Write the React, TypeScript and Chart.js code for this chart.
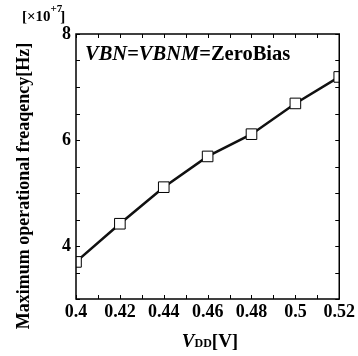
import React, { useEffect, useRef } from "react";
import { Chart, registerables } from "chart.js";

Chart.register(...registerables);

const vdd = [0.4, 0.42, 0.44, 0.46, 0.48, 0.5, 0.52];
const freq = [3.7, 4.42, 5.11, 5.69, 6.11, 6.69, 7.19];
const xMajorLabels = [0.4, 0.42, 0.44, 0.46, 0.48, 0.5, 0.52];
const yMajorLabels = [4, 6, 8];

const SERIF = "'Liberation Serif', 'Times New Roman', serif";

const framePlugin = {
  id: "frame",
  afterDraw(chart: any) {
    const { ctx, chartArea, scales } = chart;
    const { left, right, top, bottom } = chartArea;
    ctx.save();
    ctx.strokeStyle = "#000";
    ctx.lineWidth = 1.5;
    ctx.strokeRect(left, top, right - left, bottom - top);
    ctx.lineWidth = 1;
    const tl = 4;
    scales.x.ticks.forEach((t: any) => {
      const px = Math.round(scales.x.getPixelForValue(t.value)) + 0.5;
      ctx.beginPath();
      ctx.moveTo(px, bottom);
      ctx.lineTo(px, bottom - tl);
      ctx.moveTo(px, top);
      ctx.lineTo(px, top + tl);
      ctx.stroke();
    });
    scales.y.ticks.forEach((t: any) => {
      const py = Math.round(scales.y.getPixelForValue(t.value)) + 0.5;
      ctx.beginPath();
      ctx.moveTo(left, py);
      ctx.lineTo(left + tl, py);
      ctx.moveTo(right, py);
      ctx.lineTo(right - tl, py);
      ctx.stroke();
    });

    ctx.fillStyle = "#000";
    // y title
    ctx.save();
    ctx.translate(24, 186);
    ctx.rotate(-Math.PI / 2);
    ctx.textAlign = "center";
    ctx.textBaseline = "middle";
    ctx.font = `bold 18px ${SERIF}`;
    ctx.fillText("Maximum operational freaqency[Hz]", 0, 0, 288);
    ctx.restore();

    // multiplier label
    ctx.textBaseline = "alphabetic";
    ctx.textAlign = "left";
    ctx.font = `bold 15px ${SERIF}`;
    let x = 22;
    const b = 21;
    ctx.fillText("[\u00d710", x, b);
    x += ctx.measureText("[\u00d710").width;
    ctx.font = `bold 11px ${SERIF}`;
    ctx.fillText("+7", x, b - 9);
    x += ctx.measureText("+7").width;
    ctx.font = `bold 15px ${SERIF}`;
    ctx.fillText("]", x - 2, b);

    // annotation
    let ax = 85;
    const ab = 60;
    const parts: [string, string][] = [
      ["VBN", "italic bold"],
      ["=", "bold"],
      ["VBNM", "italic bold"],
      ["=ZeroBias", "bold"],
    ];
    parts.forEach(([s, w]) => {
      ctx.font = `${w} 20.5px ${SERIF}`;
      ctx.fillText(s, ax, ab);
      ax += ctx.measureText(s).width;
    });

    // x title
    const tb = 347;
    ctx.font = `italic bold 19px ${SERIF}`;
    const w1 = ctx.measureText("V").width;
    ctx.font = `bold 12px ${SERIF}`;
    const w2 = ctx.measureText("DD").width;
    ctx.font = `bold 19px ${SERIF}`;
    const w3 = ctx.measureText("[V]").width;
    let tx = 210 - (w1 + w2 + w3) / 2;
    ctx.font = `italic bold 19px ${SERIF}`;
    ctx.fillText("V", tx, tb);
    tx += w1;
    ctx.font = `bold 12px ${SERIF}`;
    ctx.fillText("DD", tx, tb);
    tx += w2;
    ctx.font = `bold 19px ${SERIF}`;
    ctx.fillText("[V]", tx, tb);
    ctx.restore();
  },
};

export default function App() {
  const ref = useRef<HTMLCanvasElement>(null);
  useEffect(() => {
    if (!ref.current) return;
    const chart = new Chart(ref.current, {
      type: "line",
      data: {
        datasets: [
          {
            data: vdd.map((v, i) => ({ x: v, y: freq[i] })),
            borderColor: "#111",
            borderWidth: 2.5,
            pointStyle: "rect",
            pointRadius: 7.5,
            pointBackgroundColor: "#fff",
            pointBorderColor: "#000",
            pointBorderWidth: 1,
            tension: 0,
          },
        ],
      },
      options: {
        animation: false,
        responsive: true,
        maintainAspectRatio: false,
        layout: { padding: { left: 0, right: 18, top: 34, bottom: 0 } },
        plugins: { legend: { display: false }, tooltip: { enabled: false } },
        scales: {
          x: {
            type: "linear",
            min: 0.4,
            max: 0.52,
            grid: { display: false, drawTicks: false },
            border: { display: false },
            ticks: {
              stepSize: 0.01,
              autoSkip: false,
              maxRotation: 0,
              padding: 3,
              color: "#000",
              font: { family: SERIF, weight: "bold", size: 18 },
              callback: (v: any) => {
                const n = Math.round(Number(v) * 100) / 100;
                return xMajorLabels.some((m) => Math.abs(m - n) < 1e-6) ? String(n) : "";
              },
            },
            afterFit: (s: any) => {
              s.height = 57;
            },
          },
          y: {
            type: "linear",
            min: 3,
            max: 8,
            grid: { display: false, drawTicks: false },
            border: { display: false },
            ticks: {
              stepSize: 0.5,
              autoSkip: false,
              padding: 5,
              color: "#000",
              font: { family: SERIF, weight: "bold", size: 18 },
              callback: (v: any) => {
                const n = Number(v);
                return yMajorLabels.some((m) => Math.abs(m - n) < 1e-6) ? String(n) : "";
              },
            },
            afterFit: (s: any) => {
              s.width = 76;
            },
          },
        },
      },
      plugins: [framePlugin],
    } as any);
    return () => chart.destroy();
  }, []);
  return (
    <div style={{ position: "fixed", left: 0, top: 0, width: 358, height: 356, background: "#fff" }}>
      <canvas ref={ref} />
    </div>
  );
}
